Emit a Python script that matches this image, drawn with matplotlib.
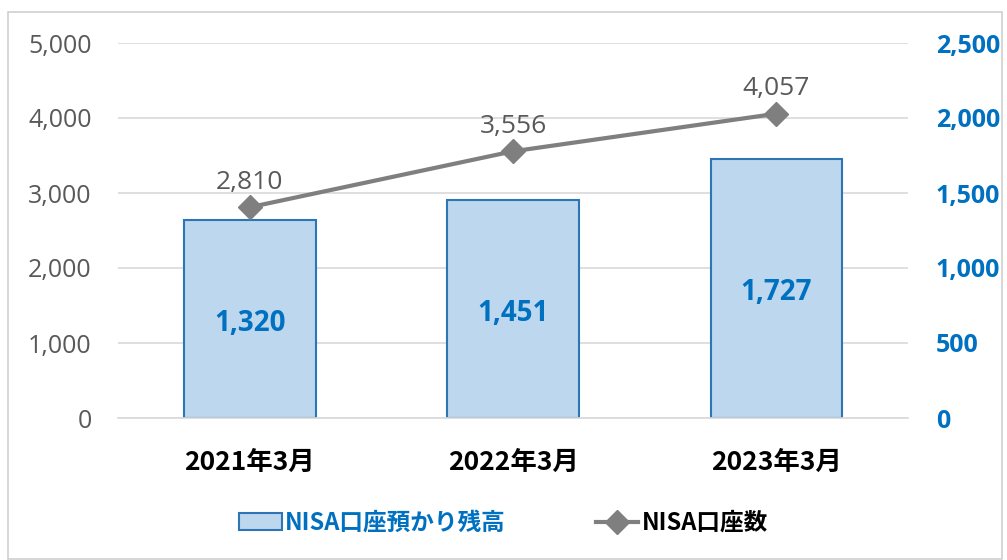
import numpy as np
import matplotlib.pyplot as plt
from matplotlib.patches import Rectangle
from matplotlib.lines import Line2D

plt.rcParams['font.family'] = ['Open Sans', 'Noto Sans CJK JP', 'DejaVu Sans']

categories = ['2021年3月', '2022年3月', '2023年3月']
balance = [1320, 1451, 1727]      # NISA口座預かり残高 (right axis)
accounts = [2810, 3556, 4057]     # NISA口座数 (left axis)
left_ticks = [0, 1000, 2000, 3000, 4000, 5000]
right_ticks = [0, 500, 1000, 1500, 2000, 2500]

bar_face = '#BDD7EE'
bar_edge = '#2E75B6'
blue = '#0070C0'
gray = '#7F7F7F'
tick_gray = '#595959'

fig = plt.figure(figsize=(10.07, 5.6), dpi=100)
fig.patches.append(Rectangle((8/1007, 0.002), 0.995 - 8/1007, 1 - 12/560 - 0.002,
                             transform=fig.transFigure, fill=False,
                             edgecolor='#D0D0D0', linewidth=1.2))

ax = fig.add_axes([118/1007, 1 - 418/560, 790/1007, 375/560])
ax2 = ax.twinx()

x = np.arange(len(categories))

# bars on the right axis
ax2.bar(x, balance, width=0.5, color=bar_face, edgecolor=bar_edge, linewidth=1.5, zorder=2)
for xi, v in zip(x, balance):
    ax2.text(xi, v / 2 - 30, f'{v:,}', ha='center', va='center', color=blue,
             fontsize=20, fontweight='bold')

# line on the left axis, drawn above bars
ax.set_zorder(ax2.get_zorder() + 1)
ax.patch.set_visible(False)
ax.plot(x, accounts, color=gray, linewidth=3, marker='D', markersize=12,
        markerfacecolor=gray, markeredgecolor=gray, zorder=3)
for xi, v in zip(x, accounts):
    ax.text(xi, v + 170, f'{v:,}', ha='center', va='bottom', color=tick_gray, fontsize=19)

ax.set_xlim(-0.5, len(categories) - 0.5)
ax.set_ylim(0, 5000)
ax2.set_ylim(0, 2500)
ax.set_yticks(left_ticks)
ax.set_yticklabels([f'{t:,}' for t in left_ticks], color=tick_gray, fontsize=18)
ax2.set_yticks(right_ticks)
ax2.set_yticklabels([f'{t:,}' for t in right_ticks], color=blue, fontsize=18, fontweight='bold')
ax.set_xticks(x)
ax.set_xticklabels(categories, fontsize=19, fontweight='bold', color='black',
                   family=['Noto Sans CJK JP'])

ax2.grid(axis='y', color='#D9D9D9', linewidth=1.2, zorder=0)
ax2.set_axisbelow(True)
for a in (ax, ax2):
    for s in a.spines.values():
        s.set_visible(False)
    a.tick_params(length=0)
ax.tick_params(axis='y', pad=19)
ax2.tick_params(axis='y', pad=20)
ax.tick_params(axis='x', pad=22)
ax.spines['bottom'].set_visible(True)
ax.spines['bottom'].set_color('#D9D9D9')
ax.spines['bottom'].set_linewidth(1.2)

handles = [Rectangle((0, 0), 1, 1, facecolor=bar_face, edgecolor=bar_edge, linewidth=1.5),
           Line2D([], [], color=gray, linewidth=3, marker='D', markersize=12)]
leg = fig.legend(handles, ['NISA口座預かり残高', 'NISA口座数'], loc='center',
                 bbox_to_anchor=(0.5, 1 - 523/560), ncol=2, frameon=False,
                 prop={'family': 'Noto Sans CJK JP', 'weight': 'bold', 'size': 17},
                 handlelength=1.8, columnspacing=3.8, handletextpad=0.15)
leg.get_texts()[0].set_color(blue)
leg.get_texts()[1].set_color('black')

fig.savefig('out.png', dpi=100)
